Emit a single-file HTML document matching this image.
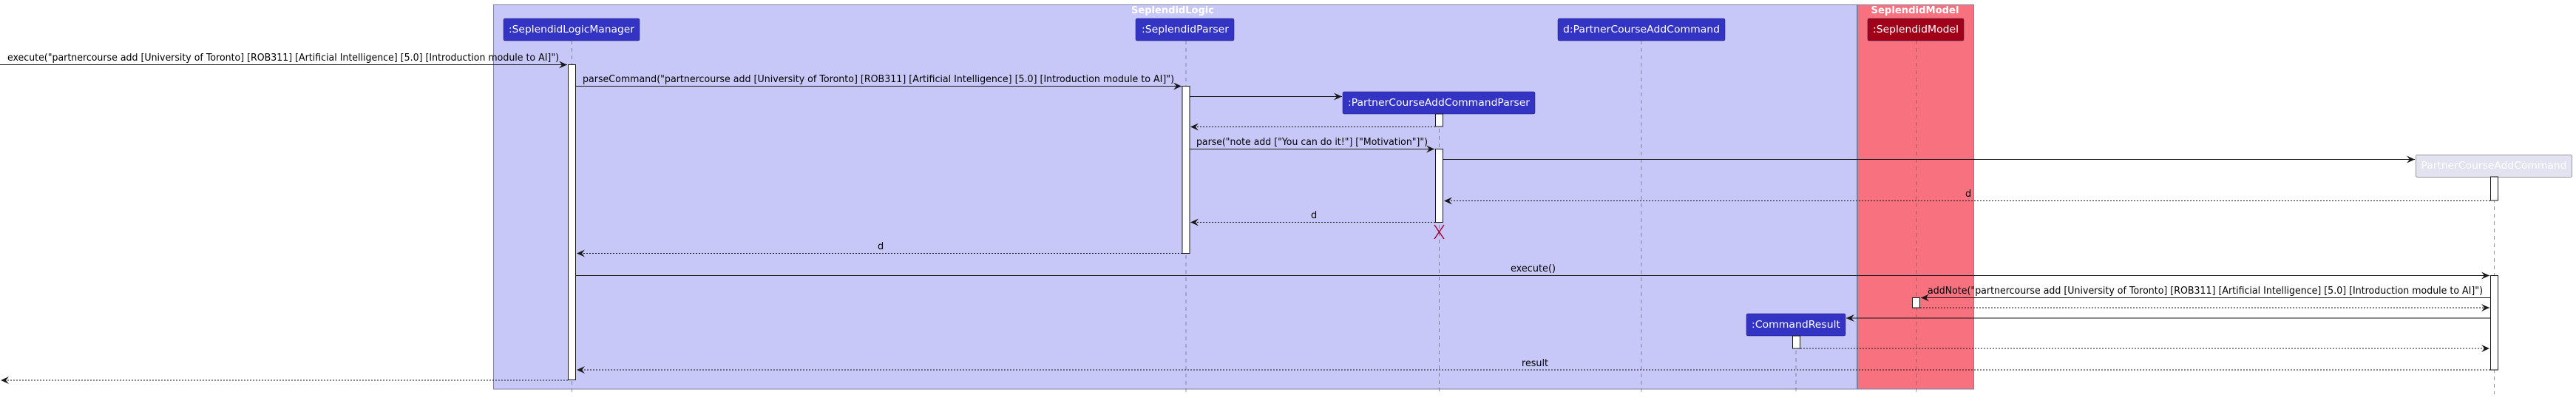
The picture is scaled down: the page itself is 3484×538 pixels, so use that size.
<!DOCTYPE html>
<html><head><meta charset="utf-8"><style>
html,body{margin:0;padding:0;background:#fff;}
svg{display:block;}
text{font-family:"DejaVu Sans","Liberation Sans",sans-serif;font-size:13px;}
</style></head><body>
<svg width="3484" height="538" viewBox="0 0 3484 538" xmlns="http://www.w3.org/2000/svg">
<defs>
<marker id="a" markerWidth="12" markerHeight="10" refX="11" refY="5" orient="auto" markerUnits="userSpaceOnUse">
<path d="M0,0 L11,5 L0,10 L4,5 Z" fill="#181818"/></marker>
</defs>
<!-- frames -->
<rect x="667.5" y="6.5" width="1844" height="519.5" fill="#c8c8f8" stroke="#7f7f9f" stroke-width="1"/>
<rect x="2512.5" y="6.5" width="157" height="519.5" fill="#f8717f" stroke="#7f7f9f" stroke-width="1"/>
<text x="1586" y="18" fill="#fff" text-anchor="middle" font-weight="bold" textLength="112" lengthAdjust="spacingAndGlyphs">SeplendidLogic</text>
<text x="2590" y="18" fill="#fff" text-anchor="middle" font-weight="bold" textLength="119" lengthAdjust="spacingAndGlyphs">SeplendidModel</text>
<!-- lifelines -->
<g stroke="#555" stroke-width="0.6" stroke-dasharray="5,5">
<line x1="773.5" y1="55" x2="773.5" y2="533"/>
<line x1="1604" y1="55" x2="1604" y2="533"/>
<line x1="2220" y1="55" x2="2220" y2="533"/>
<line x1="1946.5" y1="154" x2="1946.5" y2="533"/>
<line x1="2429" y1="454" x2="2429" y2="533"/>
<line x1="2592" y1="55" x2="2592" y2="533"/>
<line x1="3373.5" y1="239" x2="3373.5" y2="533"/>
</g>
<!-- participants -->
<g stroke="#222266" stroke-width="0.5">
<rect x="681" y="25" width="184" height="30" rx="2" fill="#3333c4"/>
<rect x="1536" y="25" width="133" height="30" rx="2" fill="#3333c4"/>
<rect x="2107" y="25" width="226" height="30" rx="2" fill="#3333c4"/>
<rect x="1816" y="124" width="260" height="30" rx="2" fill="#3333c4"/>
<rect x="2362" y="424" width="134" height="30" rx="2" fill="#3333c4"/>
<rect x="2526" y="25" width="130" height="30" rx="2" fill="#a00018"/>
</g>
<rect x="3267.5" y="209.5" width="211" height="30" rx="2" fill="#e2e2f0" stroke="#999" stroke-width="1"/>
<g fill="#fff">
<text x="773" y="44" text-anchor="middle" textLength="170" lengthAdjust="spacingAndGlyphs">:SeplendidLogicManager</text>
<text x="1603" y="44" text-anchor="middle" textLength="118" lengthAdjust="spacingAndGlyphs">:SeplendidParser</text>
<text x="2220" y="44" text-anchor="middle" textLength="212" lengthAdjust="spacingAndGlyphs">d:PartnerCourseAddCommand</text>
<text x="1946" y="143" text-anchor="middle" textLength="246" lengthAdjust="spacingAndGlyphs">:PartnerCourseAddCommandParser</text>
<text x="2429" y="443" text-anchor="middle" textLength="120" lengthAdjust="spacingAndGlyphs">:CommandResult</text>
<text x="2591" y="44" text-anchor="middle" textLength="116" lengthAdjust="spacingAndGlyphs">:SeplendidModel</text>
<text x="3373" y="228" text-anchor="middle" textLength="197" lengthAdjust="spacingAndGlyphs">PartnerCourseAddCommand</text>
</g>
<!-- activations -->
<g fill="#fff" stroke="#181818" stroke-width="1">
<rect x="768.5" y="87.5" width="10" height="426"/>
<rect x="1599" y="116.5" width="10" height="226"/>
<rect x="1941.5" y="154" width="10" height="17"/>
<rect x="1941.5" y="201.5" width="10" height="99"/>
<rect x="3368.5" y="239" width="10" height="32"/>
<rect x="3368.5" y="372.5" width="10" height="127.5"/>
<rect x="2586.5" y="402.5" width="10" height="13.5"/>
<rect x="2424.5" y="454" width="10" height="17"/>
</g>
<!-- messages -->
<g stroke="#181818" stroke-width="1" fill="none">
<line x1="0" y1="87.5" x2="767" y2="87.5" marker-end="url(#a)"/>
<line x1="778.5" y1="116.5" x2="1598" y2="116.5" marker-end="url(#a)"/>
<line x1="1609" y1="130.5" x2="1815" y2="130.5" marker-end="url(#a)"/>
<line x1="1941" y1="171.5" x2="1610" y2="171.5" stroke-dasharray="2,2" marker-end="url(#a)"/>
<line x1="1609" y1="201.5" x2="1940" y2="201.5" marker-end="url(#a)"/>
<line x1="1951.5" y1="215.5" x2="3266" y2="215.5" marker-end="url(#a)"/>
<line x1="3368" y1="271.5" x2="1953" y2="271.5" stroke-dasharray="2,2" marker-end="url(#a)"/>
<line x1="1941" y1="300.5" x2="1610" y2="300.5" stroke-dasharray="2,2" marker-end="url(#a)"/>
<line x1="1599" y1="342.5" x2="780" y2="342.5" stroke-dasharray="2,2" marker-end="url(#a)"/>
<line x1="778.5" y1="372.5" x2="3367" y2="372.5" marker-end="url(#a)"/>
<line x1="3368" y1="402.5" x2="2598" y2="402.5" marker-end="url(#a)"/>
<line x1="2597" y1="416" x2="3367" y2="416" stroke-dasharray="2,2" marker-end="url(#a)"/>
<line x1="3368" y1="430" x2="2497" y2="430" marker-end="url(#a)"/>
<line x1="2435" y1="471" x2="3367" y2="471" stroke-dasharray="2,2" marker-end="url(#a)"/>
<line x1="3368" y1="500" x2="780" y2="500" stroke-dasharray="2,2" marker-end="url(#a)"/>
<line x1="768" y1="514" x2="1" y2="514" stroke-dasharray="2,2" marker-end="url(#a)"/>
</g>
<!-- destroy -->
<g stroke="#a80036" stroke-width="1.5">
<line x1="1940" y1="304" x2="1953" y2="323"/>
<line x1="1953" y1="304" x2="1940" y2="323"/>
</g>
<!-- labels -->
<g fill="#000">
<text x="10" y="82" textLength="746" lengthAdjust="spacingAndGlyphs">execute("partnercourse add [University of Toronto] [ROB311] [Artificial Intelligence] [5.0] [Introduction module to AI]")</text>
<text x="788" y="111" textLength="800" lengthAdjust="spacingAndGlyphs">parseCommand("partnercourse add [University of Toronto] [ROB311] [Artificial Intelligence] [5.0] [Introduction module to AI]")</text>
<text x="1618" y="196" textLength="313" lengthAdjust="spacingAndGlyphs">parse("note add ["You can do it!"] ["Motivation"]")</text>
<text x="2658" y="266">d</text>
<text x="1773" y="295">d</text>
<text x="1187" y="337">d</text>
<text x="2043" y="367" textLength="61" lengthAdjust="spacingAndGlyphs">execute()</text>
<text x="2607" y="397" textLength="751" lengthAdjust="spacingAndGlyphs">addNote("partnercourse add [University of Toronto] [ROB311] [Artificial Intelligence] [5.0] [Introduction module to AI]")</text>
<text x="2058" y="495" textLength="36" lengthAdjust="spacingAndGlyphs">result</text>
</g>
</svg>
</body></html>
